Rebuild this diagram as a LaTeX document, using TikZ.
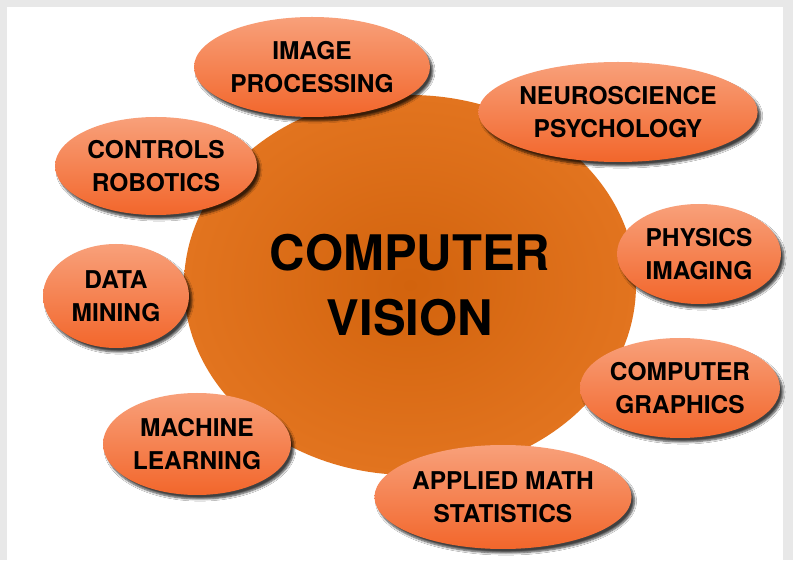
\documentclass[tikz,border=0pt]{standalone}
\usepackage{fontspec}
\setmainfont{TeX Gyre Heros}
\usetikzlibrary{shapes.geometric,shadows.blur}

\definecolor{framegray}{HTML}{E8E8E8}
\definecolor{hubin}{HTML}{D2630D}
\definecolor{hubout}{HTML}{E2741F}
\definecolor{topiclight}{HTML}{F8A07A}
\definecolor{topicdark}{HTML}{F2662B}

\begin{document}
\begin{tikzpicture}[
  x=1pt, y=1pt,
  hub/.style={ellipse, inner sep=0pt, minimum width=452pt, minimum height=380pt,
    inner color=hubin, outer color=hubout, align=center,
    font=\bfseries\fontsize{49}{65}\selectfont},
  topic/.style={ellipse, inner sep=0pt, top color=topiclight, bottom color=topicdark,
    blur shadow={shadow xshift=3pt, shadow yshift=-4pt, shadow blur steps=6,
      shadow opacity=75},
    align=center, font=\bfseries\fontsize{24.5}{33}\selectfont}
]
  % page with grey frame
  \fill[framegray] (0,0) rectangle (793,560);
  \fill[white] (7,0) rectangle (783,553);
  \useasboundingbox (0,0) rectangle (793,560);

  \node[hub] (cv) at (410,275) {COMPUTER\\VISION};

  \node[topic, minimum width=236pt, minimum height=100pt] (imgproc) at (312,493) {IMAGE\\PROCESSING};
  \node[topic, minimum width=276pt, minimum height=100pt] (neuro) at (618,448) {NEUROSCIENCE\\PSYCHOLOGY};
  \node[topic, minimum width=202pt, minimum height=98pt] (robot) at (156,394) {CONTROLS\\ROBOTICS};
  \node[topic, minimum width=146pt, minimum height=104pt] (mining) at (116,264) {DATA\\MINING};
  \node[topic, minimum width=164pt, minimum height=100pt] (physics) at (699,306) {PHYSICS\\IMAGING};
  \node[topic, minimum width=200pt, minimum height=100pt] (graphics) at (680,172) {COMPUTER\\GRAPHICS};
  \node[topic, minimum width=188pt, minimum height=102pt] (ml) at (197,116) {MACHINE\\LEARNING};
  \node[topic, minimum width=246pt, minimum height=104pt] (math) at (503,63) {APPLIED MATH\\STATISTICS};
\end{tikzpicture}
\end{document}
